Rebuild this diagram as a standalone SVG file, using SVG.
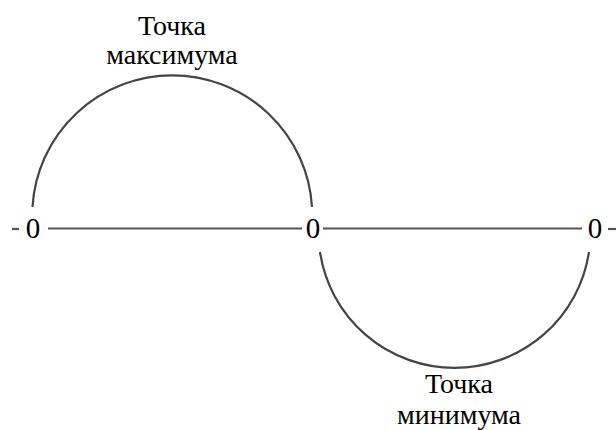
<svg xmlns="http://www.w3.org/2000/svg" width="616" height="430" viewBox="0 0 616 430">
<style>
.ln{stroke:#555;stroke-width:2.2;fill:none}
.arc{stroke:#444;stroke-width:2.2;fill:none}
</style>
<rect width="616" height="430" fill="#fff"/>
<g id="axis">
<line class="ln" x1="48" y1="228.5" x2="302" y2="228.5"/>
<line class="ln" x1="323" y1="228.5" x2="582" y2="228.5"/>
<line class="ln" x1="12" y1="229" x2="19" y2="229"/>
<line class="ln" x1="608" y1="229" x2="616" y2="229"/>
</g>
<g id="arcs">
<path class="arc" d="M32.5,207 A140,140 0 0 1 312,207"/>
<path class="arc" d="M320,252 A136,136 0 0 0 589,252"/>
</g>
<g id="zeros">
<text x="33" y="238" font-size="29" font-family="Liberation Serif, serif" text-anchor="middle" fill="#000">0</text>
<text x="313" y="238" font-size="29" font-family="Liberation Serif, serif" text-anchor="middle" fill="#000">0</text>
<text x="595" y="238" font-size="29" font-family="Liberation Serif, serif" text-anchor="middle" fill="#000">0</text>
</g>
<g id="max-label">
<text x="172" y="35" font-size="28" font-family="Liberation Serif, serif" text-anchor="middle" fill="#000">Точка</text>
<text x="172" y="64" font-size="28" font-family="Liberation Serif, serif" text-anchor="middle" fill="#000">максимума</text>
</g>
<g id="min-label">
<text x="459" y="393" font-size="28" font-family="Liberation Serif, serif" text-anchor="middle" fill="#000">Точка</text>
<text x="459" y="424" font-size="28" font-family="Liberation Serif, serif" text-anchor="middle" fill="#000">минимума</text>
</g>
</svg>
